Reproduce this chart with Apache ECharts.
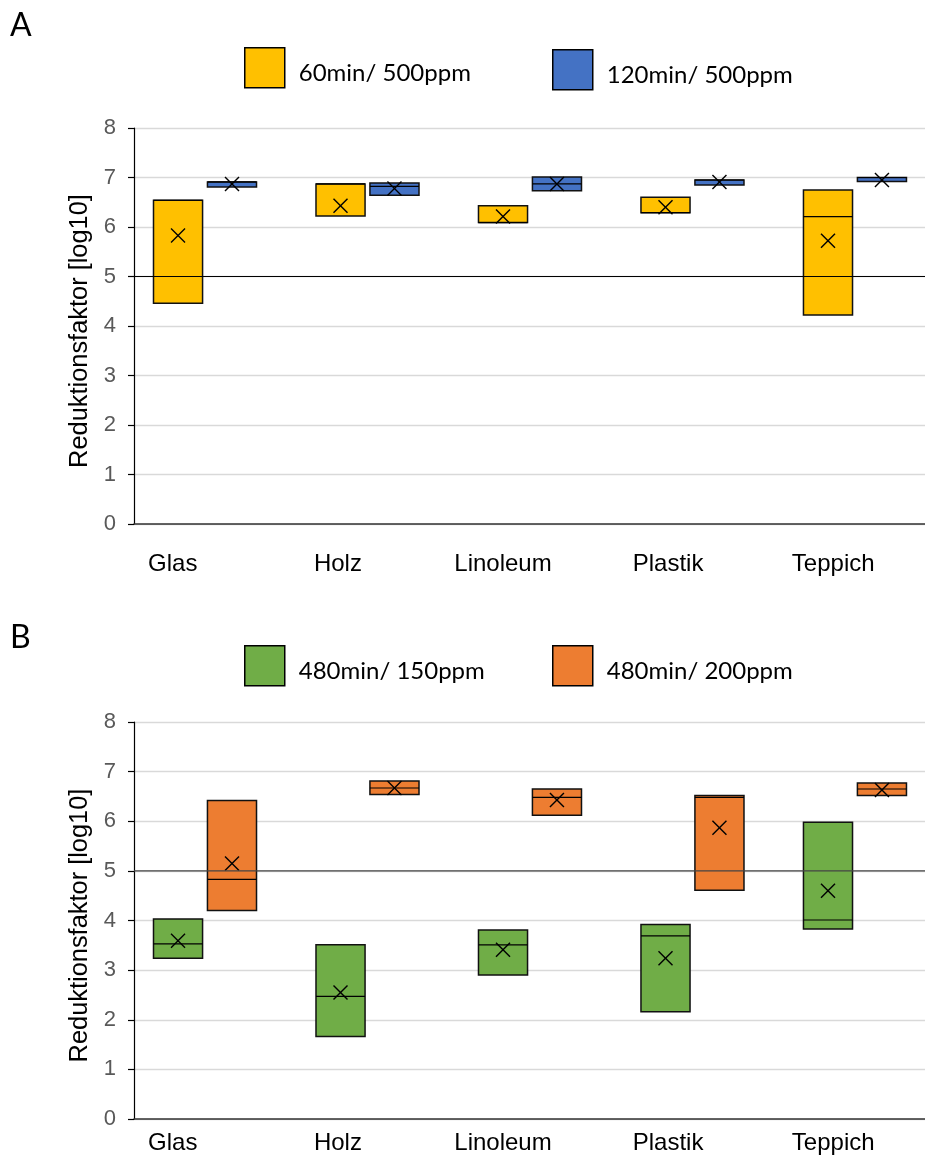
<!DOCTYPE html>
<html>
<head>
<meta charset="utf-8">
<script src="https://cdn.jsdelivr.net/npm/echarts@6/dist/echarts.min.js"></script>
<style>html,body{margin:0;padding:0;background:#fff;}#c{width:925px;height:1155px;}</style>
</head>
<body>
<div id="c"></div>
<script>
const categories = ['Glas', 'Holz', 'Linoleum', 'Plastik', 'Teppich'];
const yTicks = [0, 1, 2, 3, 4, 5, 6, 7, 8];
const referenceValue = 5;

// Panel A
const nameA1 = '60min/ 500ppm';
const a1Bottom = [4.46, 6.22, 6.09, 6.29, 4.22];
const a1Top    = [6.54, 6.87, 6.43, 6.60, 6.75];
const a1Median = [6.54, 6.87, 6.09, 6.29, 6.21];
const a1Mean   = [5.83, 6.43, 6.21, 6.40, 5.72];

const nameA2 = '120min/ 500ppm';
const a2Bottom = [6.81, 6.64, 6.73, 6.85, 6.92];
const a2Top    = [6.91, 6.89, 7.01, 6.95, 7.00];
const a2Median = [6.91, 6.82, 6.87, 6.95, 7.00];
const a2Mean   = [6.87, 6.78, 6.87, 6.91, 6.95];

// Panel B
const nameB1 = '480min/ 150ppm';
const b1Bottom = [3.24, 1.66, 2.90, 2.16, 3.83];
const b1Top    = [4.03, 3.51, 3.81, 3.92, 5.98];
const b1Median = [3.53, 2.47, 3.51, 3.69, 4.01];
const b1Mean   = [3.59, 2.55, 3.41, 3.24, 4.60];

const nameB2 = '480min/ 200ppm';
const b2Bottom = [4.20, 6.54, 6.12, 4.61, 6.52];
const b2Top    = [6.42, 6.81, 6.65, 6.52, 6.77];
const b2Median = [4.83, 6.67, 6.48, 6.48, 6.65];
const b2Mean   = [5.15, 6.67, 6.43, 5.87, 6.63];

const COLORS = { yellow: '#FFC000', blue: '#4472C4', green: '#70AD47', orange: '#ED7D31' };
const BOX_W = 0.302, SHIFT = 0.166, CROSS = 7;

function rows(bottom, top, median, mean) {
  return categories.map((c, i) => [i, bottom[i], top[i], median[i], mean[i]]);
}

function makeRender(shift, color) {
  return function (params, api) {
    const i = api.value(0);
    const unit = api.size([1, 0])[0];
    const w = unit * BOX_W;
    const cx = api.coord([i, 0])[0] + shift * unit;
    const yBot = api.coord([i, api.value(1)])[1];
    const yTop = api.coord([i, api.value(2)])[1];
    const yMed = api.coord([i, api.value(3)])[1];
    const yMean = api.coord([i, api.value(4)])[1];
    const ln = { stroke: '#000', lineWidth: 1.2 };
    return {
      type: 'group',
      children: [
        { type: 'rect', shape: { x: cx - w / 2, y: yTop, width: w, height: yBot - yTop },
          style: { fill: color, stroke: '#111', lineWidth: 1.5 } },
        { type: 'line', shape: { x1: cx - w / 2, y1: yMed, x2: cx + w / 2, y2: yMed }, style: ln },
        { type: 'line', shape: { x1: cx - CROSS, y1: yMean - CROSS, x2: cx + CROSS, y2: yMean + CROSS }, style: { stroke: '#000', lineWidth: 1.4 } },
        { type: 'line', shape: { x1: cx - CROSS, y1: yMean + CROSS, x2: cx + CROSS, y2: yMean - CROSS }, style: { stroke: '#000', lineWidth: 1.4 } }
      ]
    };
  };
}

function refSeries(xIdx, yIdx, color) {
  return {
    type: 'custom', xAxisIndex: xIdx, yAxisIndex: yIdx, z: 10, silent: true,
    data: [[0, referenceValue]],
    renderItem: function (params, api) {
      const cs = params.coordSys;
      const y = api.coord([0, api.value(1)])[1];
      return { type: 'line', shape: { x1: cs.x, y1: y, x2: cs.x + cs.width, y2: y },
               style: { stroke: color, lineWidth: 1.1 } };
    }
  };
}

function boxSeries(name, data, shift, color, xIdx, yIdx) {
  return {
    name: name, type: 'custom', xAxisIndex: xIdx, yAxisIndex: yIdx, z: 3,
    itemStyle: { color: color, borderColor: '#000', borderWidth: 1.5 },
    encode: { x: 0, y: [1, 2, 3, 4] },
    data: data,
    renderItem: makeRender(shift, color)
  };
}

function boxAxis(gi) {
  return {
    type: 'value', gridIndex: gi, min: -0.437, max: 4.431, position: 'bottom',
    axisLine: { show: true, onZero: false, lineStyle: { color: '#333', width: 1.5 } },
    axisTick: { show: false }, axisLabel: { show: false }, splitLine: { show: false }
  };
}
function labelAxis(gi, margin) {
  return {
    type: 'value', gridIndex: gi, min: -0.235, max: 4.556, position: 'bottom',
    axisLine: { show: false, onZero: false }, axisTick: { show: false }, splitLine: { show: false },
    axisLabel: {
      show: true, customValues: categories.map((c, i) => i), margin: margin,
      formatter: v => categories[Math.round(v)],
      color: '#000', fontSize: 24, fontFamily: 'Liberation Sans'
    }
  };
}
function yAxisFor(gi) {
  return {
    type: 'value', gridIndex: gi, min: yTicks[0], max: yTicks[yTicks.length - 1], interval: 1,
    name: 'Reduktionsfaktor [log10]', nameLocation: 'middle', nameGap: 40, nameRotate: 90,
    nameTextStyle: { fontSize: 25.4, color: '#000', fontFamily: 'Liberation Sans', padding: [0, 10, 0, 0] },
    axisLine: { show: true, onZero: false, lineStyle: { color: '#000', width: 1.2 } },
    axisTick: { show: true, length: 6, lineStyle: { color: '#000', width: 1.2 } },
    axisLabel: { color: '#595959', fontSize: 22, fontFamily: 'Liberation Sans', margin: 18 },
    splitLine: { show: true, lineStyle: { color: '#d9d9d9', width: 1.4 } }
  };
}
function legendFor(name, left, top) {
  return {
    data: [name], left: left, top: top, padding: 0, itemWidth: 40, itemHeight: 40, icon: 'rect',
    itemStyle: { borderColor: '#000', borderWidth: 1.5 },
    formatter: n => '{t|' + n + '}',
    textStyle: {
      color: '#000',
      rich: { t: { fontFamily: 'Lato', fontSize: 24, color: '#000', padding: [12, 0, 0, 9] } }
    },
    selectedMode: false
  };
}

const chart = echarts.init(document.getElementById('c'), null, { renderer: 'canvas' });
chart.setOption({
  backgroundColor: '#fff',
  animation: false,
  graphic: [
    { type: 'text', left: 10, top: 10, style: { text: 'A', fontFamily: 'Lato', fontSize: 32, fill: '#000' } },
    { type: 'text', left: 10, top: 622, style: { text: 'B', fontFamily: 'Lato', fontSize: 32, fill: '#000' } }
  ],
  legend: [
    legendFor(nameA1, 244, 47), legendFor(nameA2, 552, 49),
    legendFor(nameB1, 244, 645), legendFor(nameB2, 552, 645)
  ],
  grid: [
    { left: 134, top: 128, width: 791, height: 396 },
    { left: 134, top: 722, width: 791, height: 398 }
  ],
  xAxis: [boxAxis(0), labelAxis(0, 28), boxAxis(1), labelAxis(1, 12)],
  yAxis: [yAxisFor(0), yAxisFor(1)],
  series: [
    boxSeries(nameA1, rows(a1Bottom, a1Top, a1Median, a1Mean), -SHIFT, COLORS.yellow, 0, 0),
    boxSeries(nameA2, rows(a2Bottom, a2Top, a2Median, a2Mean), SHIFT, COLORS.blue, 0, 0),
    refSeries(0, 0, '#000'),
    boxSeries(nameB1, rows(b1Bottom, b1Top, b1Median, b1Mean), -SHIFT, COLORS.green, 2, 1),
    boxSeries(nameB2, rows(b2Bottom, b2Top, b2Median, b2Mean), SHIFT, COLORS.orange, 2, 1),
    refSeries(2, 1, '#444')
  ]
});
</script>
</body>
</html>
